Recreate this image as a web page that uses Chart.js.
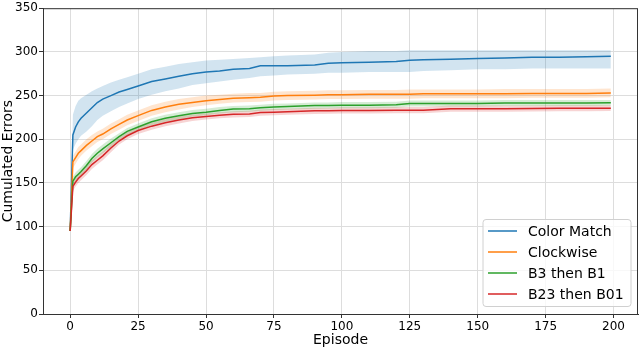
<!DOCTYPE html>
<html lang="en">
<head>
  <meta charset="utf-8">
  <title>Cumulated Errors per Episode</title>
  <style>
    * { box-sizing: border-box; margin: 0; padding: 0; }
    html, body { background: #ffffff; }
    #chart { display: block; }
  </style>
  <script src="https://cdn.jsdelivr.net/npm/chart.js"></script>
</head>
<body>
  <canvas id="chart" width="640" height="347"></canvas>
  <script>
    const episodes = [0, 1, 2, 3, 4, 6, 8, 10, 12, 15, 18, 21, 25, 30, 35, 40, 45, 50, 55, 60, 66, 70, 75, 80, 90, 95, 100, 110, 120, 125, 130, 140, 150, 160, 170, 180, 190, 199];

    const seriesNames = ['Color Match', 'Clockwise', 'B3 then B1', 'B23 then B01'];
    const seriesColors = ['#1f77b4', '#ff7f0e', '#2ca02c', '#d62728'];
    const bandColors = ['rgba(31,119,180,0.2)', 'rgba(255,127,14,0.2)', 'rgba(44,160,44,0.2)', 'rgba(214,39,40,0.2)'];

    const colorMatch = [95, 205, 214, 220, 224, 230, 236, 242, 246, 250, 254, 257, 261, 266, 269, 272, 275, 277, 278, 280, 281, 284, 284, 284, 285, 287, 287.5, 288, 289, 290.5, 291, 291.5, 292.5, 293, 294, 294, 294.5, 295];
    const colorMatchHi = [95, 228, 238, 244, 247, 251, 255, 258, 261, 265, 268, 271, 275, 280, 283, 286, 288, 290, 291, 292, 293, 294, 295, 296, 297, 299, 300, 301, 301, 302, 302, 302, 302, 302, 302, 302, 302, 302];
    const colorMatchLo = [95, 188, 195, 200, 204, 209, 215, 222, 227, 232, 237, 241, 246, 251, 255, 258, 262, 264, 266, 268, 270, 272, 273, 274, 275, 276, 276, 277, 277, 277, 278, 279, 280, 280, 281, 281, 281, 281];

    const clockwise = [95, 174, 179, 184, 187, 193, 198, 203, 206, 212, 217, 222, 227, 233, 237, 240, 242, 244, 245.5, 247, 247.5, 248, 249.5, 250, 250.5, 251, 251, 251.5, 251.5, 251.5, 252, 252, 252, 252, 252.5, 252.5, 252.5, 253];
    const clockwiseHi = [95, 181, 186, 191, 194, 200, 205, 209, 212, 218, 223, 228, 233, 239, 243, 246, 248, 250, 251, 252, 253, 253, 254.5, 255, 255.5, 256, 256, 256.5, 256.5, 257, 257, 257, 257, 257.5, 257.5, 257.5, 257.5, 258];
    const clockwiseLo = [95, 167, 172, 177, 181, 187, 192, 197, 200, 206, 211, 216, 221, 227, 231, 234, 237, 239, 240.5, 242, 242.5, 243, 244.5, 245, 245.5, 246, 246, 246.5, 246.5, 246.5, 247, 247, 247, 247, 247.5, 247.5, 247.5, 248];

    const b3ThenB1 = [95, 152, 157, 160, 163, 170, 178, 184, 189, 196, 203, 209, 214, 220, 224, 227, 229.5, 231, 233, 234.5, 235, 236, 237, 237.5, 238.5, 238.6, 239, 239, 239.5, 241, 241, 241, 241, 241.5, 241.5, 241.5, 241.5, 241.7];
    const b3ThenB1Hi = [95, 157, 162, 165, 168, 175, 183, 189, 194, 201, 207, 213, 218, 224, 228, 231, 233.5, 235, 237, 238, 238.5, 239.5, 240.5, 241, 242, 242, 242.5, 242.5, 243, 244.5, 244.5, 244.5, 244.5, 245, 245, 245, 245, 245];
    const b3ThenB1Lo = [95, 147, 152, 155, 158, 165, 173, 179, 184, 191, 199, 205, 210, 216, 220, 223, 226, 227.5, 229.5, 231, 231.5, 232.5, 233.5, 234, 235, 235.2, 235.5, 235.5, 236, 237.5, 237.5, 237.5, 237.5, 238, 238, 238, 238, 238.3];

    const b23ThenB01 = [95, 146, 151, 155, 158, 164, 171, 176, 181, 190, 198, 204, 210, 215, 219, 222, 224.5, 226, 227.5, 228.5, 229, 230.5, 231, 231.5, 232.5, 232.6, 233, 233, 233.3, 233.3, 233.3, 235, 235, 235, 235.2, 235.5, 235.5, 235.6];
    const b23ThenB01Hi = [95, 151, 156, 160, 163, 169, 176, 181, 186, 195, 202, 208, 214, 219, 223, 226, 228, 229.5, 231, 232, 232.5, 234, 234.5, 235, 236, 236, 236.5, 236.5, 236.8, 236.8, 236.8, 238.5, 238.5, 238.5, 238.7, 239, 239, 239];
    const b23ThenB01Lo = [95, 141, 146, 150, 153, 159, 166, 171, 176, 185, 194, 200, 206, 211, 215, 218, 221, 222.5, 224, 225, 225.5, 227, 227.5, 228, 229, 229.2, 229.5, 229.5, 229.8, 229.8, 229.8, 231.5, 231.5, 231.5, 231.7, 232, 232, 232.2];

    const xTicks = [0, 25, 50, 75, 100, 125, 150, 175, 200];
    const yTicks = [0, 50, 100, 150, 200, 250, 300, 350];

    const means = [colorMatch, clockwise, b3ThenB1, b23ThenB01];
    const highs = [colorMatchHi, clockwiseHi, b3ThenB1Hi, b23ThenB01Hi];
    const lows = [colorMatchLo, clockwiseLo, b3ThenB1Lo, b23ThenB01Lo];

    const pts = arr => arr.map((v, i) => ({ x: episodes[i], y: v }));

    const datasets = [];
    // shaded bands first (lower, then upper filled down to it)
    means.forEach((m, i) => {
      datasets.push({ label: 'band', data: pts(lows[i]), borderWidth: 0, pointRadius: 0, fill: false, order: 20 + i });
      datasets.push({ label: 'band', data: pts(highs[i]), borderWidth: 0, pointRadius: 0, backgroundColor: bandColors[i], fill: '-1', order: 20 + i });
    });
    // mean lines, red ends up on top
    means.forEach((m, i) => {
      datasets.push({ label: seriesNames[i], data: pts(m), borderColor: seriesColors[i], borderWidth: 1.5, pointRadius: 0, fill: false, tension: 0, order: 4 - i });
    });

    // top/right spines + legend box drawn by hand
    const framePlugin = {
      id: 'frame',
      afterDraw(chart) {
        const { ctx, chartArea: a } = chart;
        ctx.save();
        ctx.strokeStyle = '#333';
        ctx.lineWidth = 1;
        ctx.strokeRect(a.left + 0.5, a.top + 0.5, a.right - a.left - 1, a.bottom - a.top);

        // legend
        const bx = 483, by = 219.5, bw = 148, bh = 87, r = 3;
        ctx.fillStyle = 'rgba(255,255,255,0.8)';
        ctx.strokeStyle = '#d0d0d0';
        ctx.beginPath();
        ctx.moveTo(bx + r, by);
        ctx.arcTo(bx + bw, by, bx + bw, by + bh, r);
        ctx.arcTo(bx + bw, by + bh, bx, by + bh, r);
        ctx.arcTo(bx, by + bh, bx, by, r);
        ctx.arcTo(bx, by, bx + bw, by, r);
        ctx.closePath();
        ctx.fill();
        ctx.stroke();
        ctx.font = '14px "DejaVu Sans"';
        ctx.textBaseline = 'middle';
        ctx.fillStyle = '#000';
        seriesNames.forEach((name, i) => {
          const y = 231 + i * 21;
          ctx.strokeStyle = seriesColors[i];
          ctx.lineWidth = 1.5;
          ctx.beginPath();
          ctx.moveTo(488, y);
          ctx.lineTo(517, y);
          ctx.stroke();
          ctx.fillText(name, 528, y + 1);
        });
        ctx.restore();
      }
    };

    new Chart(document.getElementById('chart'), {
      type: 'line',
      data: { datasets },
      options: {
        responsive: false,
        animation: false,
        layout: { padding: { top: 5, right: 2, left: 0, bottom: 0 } },
        plugins: { legend: { display: false }, tooltip: { enabled: false } },
        scales: {
          x: {
            type: 'linear',
            min: -10,
            max: 209,
            afterBuildTicks: s => { s.ticks = xTicks.map(v => ({ value: v })); },
            afterFit: s => { s.height = 33; },
            grid: { color: '#dddddd', lineWidth: 1, tickColor: '#333', tickLength: 4 },
            border: { color: '#333', width: 1 },
            ticks: { color: '#000', font: { family: 'DejaVu Sans', size: 12 }, padding: 2, maxRotation: 0 },
            title: { display: true, text: 'Episode', color: '#000', font: { family: 'DejaVu Sans', size: 14 }, padding: { top: 0, bottom: -2 } }
          },
          y: {
            min: 0,
            max: 350,
            afterBuildTicks: s => { s.ticks = yTicks.map(v => ({ value: v })); },
            afterFit: s => { s.width = 43; },
            grid: { color: '#dddddd', lineWidth: 1, tickColor: '#333', tickLength: 4 },
            border: { color: '#333', width: 1 },
            ticks: { color: '#000', font: { family: 'DejaVu Sans', size: 12 }, padding: 1 },
            title: { display: true, text: 'Cumulated Errors', color: '#000', font: { family: 'DejaVu Sans', size: 14 }, padding: { top: 0, bottom: 0 } }
          }
        }
      },
      plugins: [framePlugin]
    });
  </script>
</body>
</html>
